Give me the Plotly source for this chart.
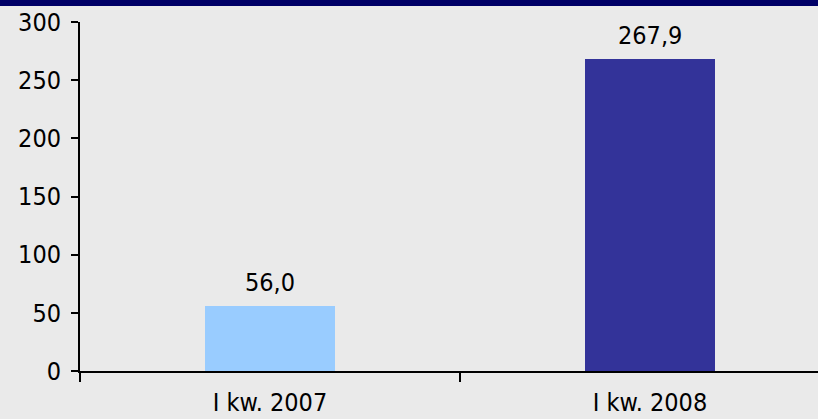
import plotly.graph_objects as go

categories = ["I kw. 2007", "I kw. 2008"]
values = [56.0, 267.9]
labels = ["56,0", "267,9"]
bar_colors = ["#99ccff", "#333399"]
y_ticks = [0, 50, 100, 150, 200, 250, 300]

FONT = "DejaVu Sans Condensed, Liberation Sans, DejaVu Sans, sans-serif"
BG = "#eaeaea"

fig = go.Figure()
fig.add_trace(go.Bar(
    x=categories, y=values, marker_color=bar_colors, width=0.342,
    marker_line_width=0, hoverinfo="skip",
))

for c, v, t in zip(categories, values, labels):
    fig.add_annotation(x=c, y=v, text=t, showarrow=False, yanchor="bottom",
                       yshift=7, font=dict(family=FONT, size=25, color="#000000"))

# top navy band
fig.add_shape(type="rect", xref="paper", yref="paper", x0=-0.2, x1=1.2,
              y0=1 + 16 / 349, y1=1.2, fillcolor="#000066", line_width=0)

fig.update_layout(
    width=818, height=419,
    margin=dict(l=80, r=0, t=22, b=48, autoexpand=False),
    paper_bgcolor=BG, plot_bgcolor=BG,
    showlegend=False,
    bargap=0,
    font=dict(family=FONT, size=25, color="#000000"),
    xaxis=dict(
        type="category", range=[-0.5, 1.442], tickson="boundaries",
        ticks="outside", ticklen=9, tickwidth=2, tickcolor="#000000",
        showline=True, linecolor="#000000", linewidth=2,
        showgrid=False, zeroline=False, fixedrange=True, automargin=False,
        tickfont=dict(family=FONT, size=25), ticklabelstandoff=8,
    ),
    yaxis=dict(
        range=[0, 300], tickvals=y_ticks, ticktext=[str(v) for v in y_ticks],
        ticks="outside", ticklen=7, tickwidth=2, tickcolor="#000000",
        showline=True, linecolor="#000000", linewidth=2,
        showgrid=False, zeroline=False, fixedrange=True, automargin=False,
        tickfont=dict(family=FONT, size=25), ticklabelstandoff=5,
    ),
)

fig.write_html(
    "out.html",
    config={"displayModeBar": False},
    post_script="document.body.style.margin='0';document.body.style.overflow='hidden';",
)
